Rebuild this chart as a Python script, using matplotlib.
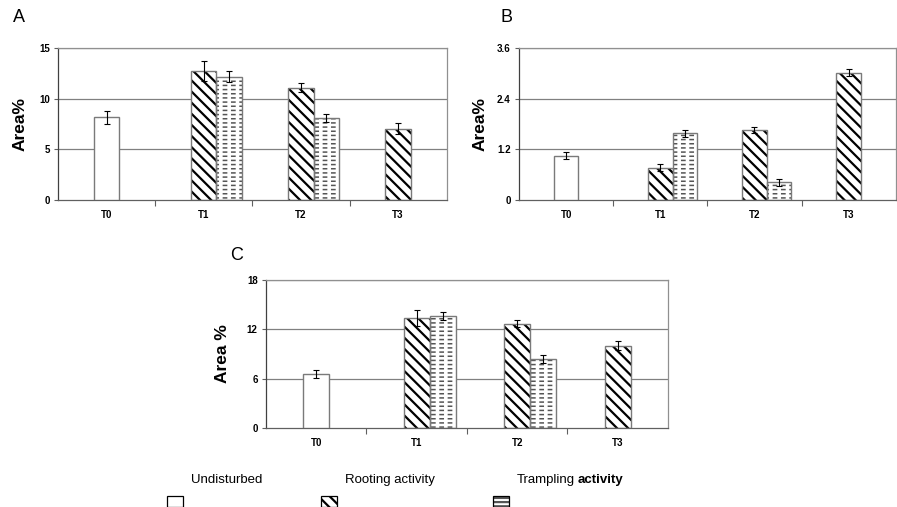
import numpy as np
import matplotlib
matplotlib.use('Agg')
import matplotlib.pyplot as plt
from matplotlib.patches import Rectangle

plt.rcParams['font.family'] = ['Liberation Sans', 'DejaVu Sans']
plt.rcParams['hatch.linewidth'] = 1.6

# ============================================================
# Data
# ============================================================
categories = ['T0', 'T1', 'T2', 'T3']

# Panel A
a_undist = [8.15]
a_undist_err = [0.6]
a_root = [12.7, 11.1, 7.05]
a_root_err = [1.0, 0.4, 0.55]
a_tramp = [12.15, 8.05]
a_tramp_err = [0.55, 0.4]
a_ticks = [0, 5, 10, 15]

# Panel B
b_undist = [1.05]
b_undist_err = [0.09]
b_root = [0.77, 1.66, 3.02]
b_root_err = [0.09, 0.08, 0.08]
b_tramp = [1.58, 0.42]
b_tramp_err = [0.09, 0.08]
b_ticks = [0, 1.2, 2.4, 3.6]
b_ticklabels = ['0', '1.2', '2.4', '3.6']

# Panel C
c_undist = [6.6]
c_undist_err = [0.5]
c_root = [13.4, 12.7, 10.0]
c_root_err = [0.95, 0.45, 0.55]
c_tramp = [13.65, 8.4]
c_tramp_err = [0.5, 0.5]
c_ticks = [0, 6, 12, 18]

undist_pos = [0]
root_pos = [1, 2, 3]
tramp_pos = [1, 2]

W = 0.26
EDGE = '#7a7a7a'


def rooting_bars(ax, x, h):
    ax.bar(x, h, W, color='white', edgecolor='black', hatch='\\\\\\', linewidth=0, zorder=2)
    ax.bar(x, h, W, color='none', edgecolor=EDGE, linewidth=1.0, zorder=3)


def trampling_bars(ax, x, h):
    with plt.rc_context({'hatch.linewidth': 1.1}):
        ax.bar(x, h, W, color='white', edgecolor='#555555', hatch='----', linewidth=0, zorder=2)
    # white vertical hatch breaks the lines into dashes
    with plt.rc_context({'hatch.linewidth': 2.6}):
        ax.bar(x, h, W, color='none', edgecolor='white', hatch='||', linewidth=0, zorder=2.5)
    ax.bar(x, h, W, color='none', edgecolor=EDGE, linewidth=1.0, zorder=3)


def panel(ax, ud, ude, rt, rte, tr, tre, ticks, ticklabels, ylabel, letter, lx, ly, pad):
    ax.bar(undist_pos, ud, W, color='white', edgecolor=EDGE, linewidth=1.0, zorder=3)
    rooting_bars(ax, root_pos, rt)
    tx = [p + W for p in tramp_pos]
    trampling_bars(ax, tx, tr)

    ekw = dict(fmt='none', ecolor='black', elinewidth=0.8, capsize=2.5, capthick=0.8, zorder=4)
    ax.errorbar(undist_pos, ud, yerr=ude, **ekw)
    ax.errorbar(root_pos, rt, yerr=rte, **ekw)
    ax.errorbar(tx, tr, yerr=tre, **ekw)

    ax.set_xlim(-0.5, 3.5)
    ax.set_ylim(0, ticks[-1])
    ax.set_yticks(ticks)
    ax.set_yticklabels(ticklabels, fontsize=7, fontweight='bold')
    for t in ticks[1:]:
        ax.axhline(t, color='#808080', lw=0.9, zorder=1)

    ax.set_xticks([0.5, 1.5, 2.5])
    ax.set_xticklabels([])
    ax.set_xticks(range(len(categories)), minor=True)
    ax.set_xticklabels(categories, minor=True, fontsize=7, fontweight='bold')
    ax.tick_params(axis='x', which='major', direction='out', length=4, color='#606060')
    ax.tick_params(axis='x', which='minor', length=0, pad=7)
    ax.tick_params(axis='y', direction='out', length=3, color='#606060', pad=3)

    ax.spines['left'].set_color('#404040')
    ax.spines['bottom'].set_color('#606060')
    ax.spines['top'].set_color('#909090')
    ax.spines['right'].set_color('#909090')
    for s in ax.spines.values():
        s.set_linewidth(0.9)

    ax.set_ylabel(ylabel, fontsize=12.5, fontweight='bold', labelpad=pad)
    ax.figure.text(lx, ly, letter, fontsize=13, ha='left', va='center')


fig = plt.figure(figsize=(8.97, 5.07), dpi=100)

axA = fig.add_axes([0.0647, 0.6055, 0.4333, 0.2998])
axB = fig.add_axes([0.5786, 0.6055, 0.4200, 0.2998])
axC = fig.add_axes([0.2965, 0.1558, 0.4482, 0.2919])

panel(axA, a_undist, a_undist_err, a_root, a_root_err, a_tramp, a_tramp_err,
      a_ticks, [str(t) for t in a_ticks], 'Area%', 'A', 0.014, 0.965, 8)
panel(axB, b_undist, b_undist_err, b_root, b_root_err, b_tramp, b_tramp_err,
      b_ticks, b_ticklabels, 'Area%', 'B', 0.558, 0.965, 7)
panel(axC, c_undist, c_undist_err, c_root, c_root_err, c_tramp, c_tramp_err,
      c_ticks, [str(t) for t in c_ticks], 'Area %', 'C', 0.257, 0.497, 12)

# Legend along the bottom
bw, bh = 16 / 897, 11 / 507
by = 0.0
leg_items = [
    (167 / 897, None, 'white', 'Undisturbed'),
    (321 / 897, '\\\\\\', 'black', 'Rooting activity'),
    (493 / 897, '----', '#555555', 'Trampling'),
]
last = None
for x, hatch, hc, label in leg_items:
    r = Rectangle((x, by), bw, bh, transform=fig.transFigure, facecolor='white',
                  edgecolor=hc if hatch else 'black', hatch=hatch, linewidth=0 if hatch else 0.9)
    fig.patches.append(r)
    if hatch:
        fig.patches.append(Rectangle((x, by), bw, bh, transform=fig.transFigure,
                                     facecolor='none', edgecolor='black', linewidth=0.9))
    last = fig.text(x + bw + 8 / 897, 0.053, label, fontsize=9.5, ha='left', va='center')

axC.annotate('activity', xy=(1, 0.5), xycoords=last, xytext=(2, 0),
             textcoords='offset points', fontsize=9.5, fontweight='bold',
             ha='left', va='center', annotation_clip=False)

fig.savefig('out.png', dpi=100)
